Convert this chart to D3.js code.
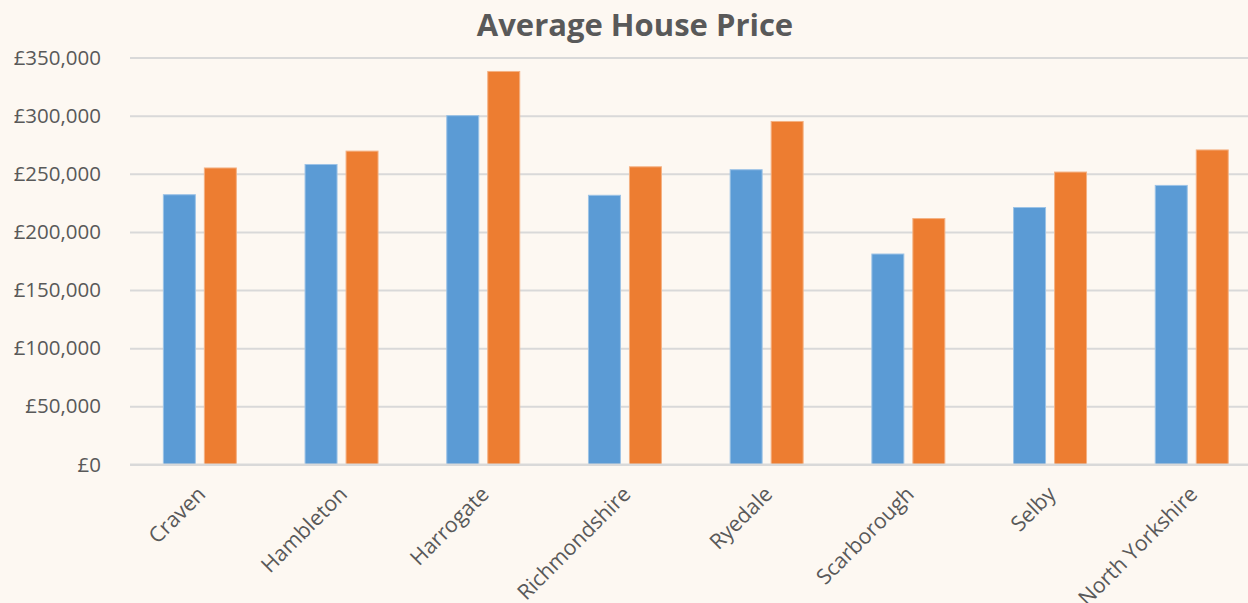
<!DOCTYPE html>
<html>
<head>
<meta charset="utf-8">
<script src="https://cdn.jsdelivr.net/npm/d3@7"></script>
<style>
  html, body { margin: 0; padding: 0; background: #fdf8f2; }
  svg { display: block; }
</style>
</head>
<body>
<div id="chart"></div>
<script>
// DATA
var districts  = ['Craven', 'Hambleton', 'Harrogate', 'Richmondshire', 'Ryedale', 'Scarborough', 'Selby', 'North Yorkshire'];
var seriesA    = [232000, 258000, 300000, 231500, 253500, 181000, 221000, 240000];
var seriesB    = [255000, 269500, 338000, 256000, 295000, 211500, 251500, 270500];
var seriesKeys = ['seriesA', 'seriesB'];
var yTicks     = [0, 50000, 100000, 150000, 200000, 250000, 300000, 350000];
var chartTitle = 'Average House Price';

var colors = { seriesA: '#5b9bd5', seriesB: '#ed7d31' };
var strokes = { seriesA: '#9cc3e6', seriesB: '#f4b183' };

// MAIN
var width  = 1248;
var height = 603;
var margin = { top: 57.5, left: 129, bottom: 138.5 };
var step   = 141.7;

var rows = districts.map(function(d, i) {
  return { name: d, seriesA: seriesA[i], seriesB: seriesB[i] };
});

var svg = d3.select('#chart')
  .append('svg')
  .attr('width', width)
  .attr('height', height)
  .style('background', '#fdf8f2');

// map y domain to y range
var yScale = d3.scaleLinear()
  .domain([0, 350000])
  .range([height - margin.bottom, margin.top]);

// outer band for districts, inner band for the two series
var x0 = d3.scaleBand()
  .domain(districts)
  .range([margin.left, margin.left + step * districts.length])
  .paddingInner(0.485)
  .paddingOuter(0.2425);

var x1 = d3.scaleBand()
  .domain(seriesKeys)
  .range([0, x0.bandwidth()])
  .paddingInner(0.22);

var fmt = function(v) { return '£' + d3.format(',')(v); };

// gridlines + y labels
var yAxis = d3.axisLeft(yScale)
  .tickValues(yTicks)
  .tickFormat(fmt)
  .tickSize(-(x0.range()[1] - margin.left))
  .tickPadding(29);

var yGuide = svg.append('g')
  .attr('transform', 'translate(' + (margin.left + 1) + ',0)')
  .call(yAxis);
yGuide.select('.domain').remove();
yGuide.selectAll('.tick line')
  .attr('stroke', '#d9d9d9')
  .attr('stroke-width', 2);
yGuide.selectAll('.tick text')
  .attr('fill', '#595959')
  .style('font-family', '"Open Sans", sans-serif')
  .style('font-size', '20.5px');

// bars
var groups = svg.append('g')
  .selectAll('g')
  .data(rows)
  .enter()
  .append('g')
  .attr('transform', function(d) { return 'translate(' + x0(d.name) + ',0)'; });

groups.selectAll('rect')
  .data(function(d) {
    return seriesKeys.map(function(k) { return { key: k, value: d[k] }; });
  })
  .enter()
  .append('rect')
  .attr('x', function(d) { return x1(d.key); })
  .attr('y', function(d) { return yScale(d.value); })
  .attr('width', x1.bandwidth())
  .attr('height', function(d) { return yScale(0) - yScale(d.value); })
  .attr('fill', function(d) { return colors[d.key]; })
  .attr('stroke', function(d) { return strokes[d.key]; })
  .attr('stroke-width', 1);

// x axis line on top of the bars
svg.append('line')
  .attr('x1', margin.left + 1)
  .attr('x2', x0.range()[1])
  .attr('y1', yScale(0))
  .attr('y2', yScale(0))
  .attr('stroke', '#d9d9d9')
  .attr('stroke-width', 2);

// category labels, rotated
svg.append('g')
  .selectAll('text')
  .data(districts)
  .enter()
  .append('text')
  .attr('transform', function(d) {
    var cx = x0(d) + x0.bandwidth() / 2 + 7;
    return 'translate(' + cx + ',' + (yScale(0) + 31) + ') rotate(-45)';
  })
  .attr('text-anchor', 'end')
  .attr('fill', '#595959')
  .style('font-family', '"Open Sans", sans-serif')
  .style('font-size', '21.3px')
  .text(function(d) { return d; });

// title
svg.append('text')
  .attr('x', 635)
  .attr('y', 36)
  .attr('text-anchor', 'middle')
  .attr('fill', '#595959')
  .style('font-family', '"Open Sans", sans-serif')
  .style('font-weight', 'bold')
  .style('font-size', '31px')
  .text(chartTitle);
</script>
</body>
</html>
